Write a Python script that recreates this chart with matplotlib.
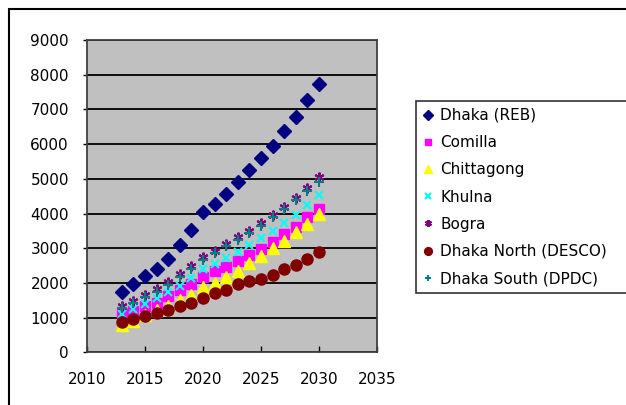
import matplotlib.pyplot as plt
from matplotlib.patches import Rectangle

plt.rcParams['font.family'] = ['DejaVu Sans']

years = list(range(2013, 2031))

dhaka_reb = [1740, 1960, 2210, 2400, 2700, 3090, 3530, 4030, 4280,
             4550, 4900, 5250, 5600, 5950, 6390, 6780, 7270, 7740]
comilla = [1100, 1190, 1320, 1430, 1610, 1790, 1960, 2170, 2340,
           2450, 2620, 2800, 2970, 3190, 3400, 3620, 3890, 4140]
chittagong = [790, 910, 1080, 1210, 1340, 1510, 1650, 1870, 2010,
              2180, 2350, 2570, 2780, 3000, 3220, 3480, 3700, 3980]
khulna = [1100, 1240, 1390, 1560, 1750, 1920, 2140, 2400, 2540,
          2710, 2880, 3090, 3290, 3500, 3720, 3960, 4240, 4520]
bogra = [1340, 1480, 1660, 1830, 2020, 2260, 2490, 2740, 2930,
         3120, 3320, 3500, 3730, 3960, 4200, 4460, 4730, 5040]
dhaka_north = [865, 960, 1060, 1140, 1220, 1320, 1430, 1570, 1700,
               1800, 1960, 2050, 2100, 2220, 2400, 2530, 2700, 2890]
dhaka_south = [1270, 1410, 1590, 1750, 1940, 2180, 2410, 2660, 2860,
               3050, 3240, 3430, 3640, 3910, 4120, 4390, 4660, 4920]

series = [
    ("Dhaka (REB)", dhaka_reb, dict(marker='D', color='#000080', ms=7)),
    ("Comilla", comilla, dict(marker='s', color='#FF00FF', ms=7)),
    ("Chittagong", chittagong, dict(marker='^', color='#FFFF00', ms=8)),
    ("Khulna", khulna, dict(marker='x', color='#00FFFF', ms=6, mew=1.5)),
    ("Bogra", bogra, dict(marker=(6, 2, 0), color='#800080', ms=7, mew=1.5)),
    ("Dhaka North (DESCO)", dhaka_north, dict(marker='o', color='#800000', ms=8)),
    ("Dhaka South (DPDC)", dhaka_south, dict(marker='+', color='#008080', ms=7, mew=1.5)),
]

fig = plt.figure(figsize=(6.26, 4.05), dpi=100)
ax = fig.add_axes([87 / 626, 1 - 352.3 / 405, 290 / 626, 312.3 / 405])
ax.set_facecolor('#C0C0C0')

for label, values, style in series:
    ax.plot(years, values, linestyle='none', label=label, **style)

ax.set_xlim(2010, 2035)
ax.set_ylim(0, 9000)
ax.set_xticks(range(2010, 2036, 5))
ax.set_yticks(range(0, 9001, 1000))
ax.yaxis.grid(True, color='black', linewidth=1.3)
ax.set_axisbelow(True)
for s in ax.spines.values():
    s.set_color('#404040')
    s.set_linewidth(1.3)
ax.tick_params(axis='x', direction='in', length=4, width=1, pad=14, labelsize=11)
ax.tick_params(axis='y', direction='out', length=3, width=1, pad=10, labelsize=11)

leg_top = 1 - 101 / 405
leg = fig.legend(loc='upper left', bbox_to_anchor=(416 / 626, leg_top - 0.01, 240 / 626, 0.01),
                 mode='expand', fontsize=11, frameon=True, fancybox=False,
                 handlelength=0.7, handletextpad=0.45, labelspacing=0.8,
                 borderpad=0.45, borderaxespad=0, markerscale=0.7)
leg.get_frame().set_edgecolor('black')
leg.get_frame().set_linewidth(1.2)

# outer chart border
fig.patches.append(Rectangle((9 / 626, -0.1), 1.2, 1 - 9 / 405 + 0.1,
                             transform=fig.transFigure, fill=False,
                             edgecolor='black', linewidth=1.5))

fig.savefig('out.png', dpi=100)
